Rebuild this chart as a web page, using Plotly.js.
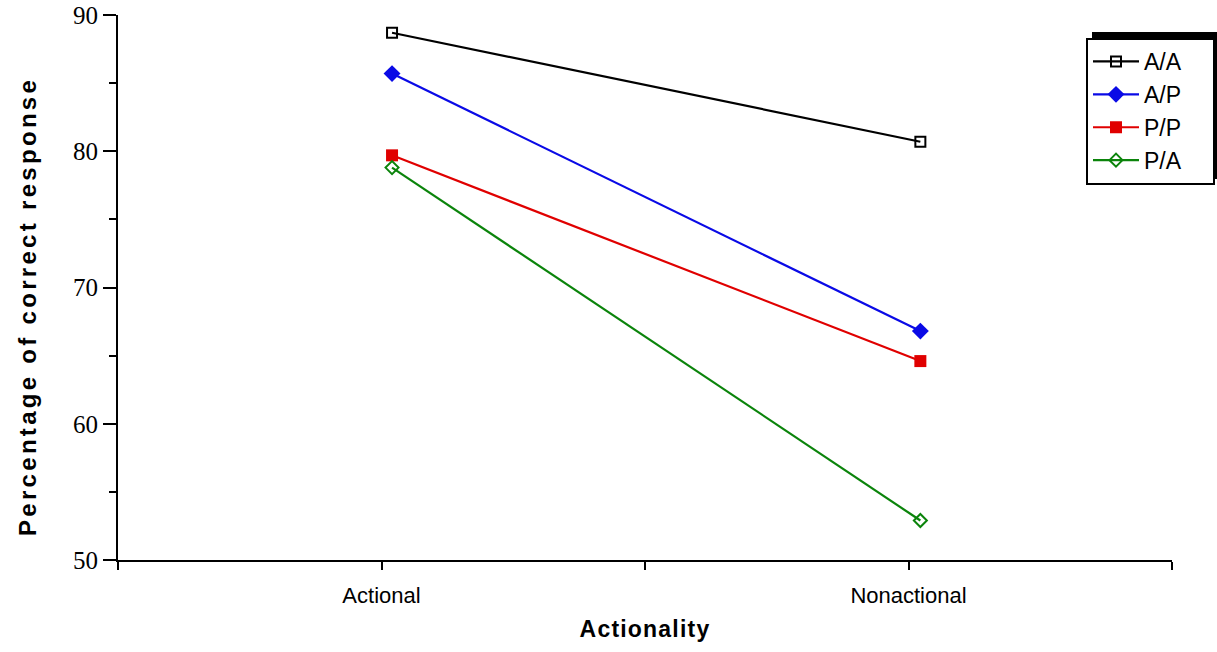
<!DOCTYPE html>
<html>
<head>
<meta charset="utf-8">
<script src="https://cdn.plot.ly/plotly-3.0.1.min.js"></script>
<style>
html,body{margin:0;padding:0;background:#fff;}
#chart{width:1217px;height:652px;}
</style>
</head>
<body>
<div id="chart"></div>
<script>
// Data
const categories = ["Actional", "Nonactional"];
const categoryPositions = [1.04, 3.045];
const seriesNames = ["A/A", "A/P", "P/P", "P/A"];
const valuesAA = [88.7, 80.7];
const valuesAP = [85.7, 66.8];
const valuesPP = [79.7, 64.6];
const valuesPA = [78.8, 52.9];
const xTickVals = [0, 1, 2, 3, 4];
const xTickText = ["", "Actional", "", "Nonactional", ""];
const yTickVals = [50, 60, 70, 80, 90];

const seriesValues = [valuesAA, valuesAP, valuesPP, valuesPA];
const styles = [
  {color: "#000000", symbol: "square-open", size: 10, lw: 2},
  {color: "#0a0ae6", symbol: "diamond", size: 13, lw: 0},
  {color: "#e00000", symbol: "square", size: 12, lw: 0},
  {color: "#0b840b", symbol: "diamond-open", size: 10, lw: 2}
];

const traces = seriesNames.map((name, i) => ({
  type: "scatter",
  mode: "lines+markers",
  name: name,
  x: categoryPositions,
  y: seriesValues[i],
  line: {color: styles[i].color, width: 2.2},
  marker: {symbol: styles[i].symbol, size: styles[i].size, color: styles[i].color,
           line: {color: styles[i].color, width: styles[i].lw}},
  cliponaxis: false,
  hoverinfo: "x+y+name"
}));

// plot area in px: x 118..1172, y 15..560
const px = v => (v - 118) / 1054;
const py = v => (560 - v) / 545;

const layout = {
  width: 1217, height: 652,
  margin: {l: 118, r: 45, t: 15, b: 92},
  paper_bgcolor: "#ffffff",
  plot_bgcolor: "rgba(0,0,0,0)",
  showlegend: true,
  font: {family: "Liberation Sans, Arial, sans-serif", color: "#000"},
  xaxis: {
    range: [0, 4],
    tickmode: "array",
    tickvals: xTickVals,
    ticktext: xTickText,
    showgrid: false, zeroline: false,
    showline: true, linecolor: "#000", linewidth: 2,
    ticks: "outside", ticklen: 8, tickwidth: 2, tickcolor: "#000",
    ticklabelstandoff: 7,
    tickfont: {family: "Liberation Sans, Arial, sans-serif", size: 22, color: "#000"},
    title: {text: "<span style=\"letter-spacing:1.2px\">Actionality</span>", font: {family: "Liberation Sans, Arial, sans-serif", size: 23, color: "#000", weight: "bold"}, standoff: 13},
    fixedrange: true
  },
  yaxis: {
    range: [50, 90],
    tickmode: "array",
    tickvals: yTickVals,
    showgrid: false, zeroline: false,
    showline: true, linecolor: "#000", linewidth: 2,
    ticks: "outside", ticklen: 13, tickwidth: 2, tickcolor: "#000",
    tickfont: {family: "Liberation Serif, Times New Roman, serif", size: 25, color: "#000"},
    minor: {dtick: 5, tick0: 50, ticks: "outside", ticklen: 7, tickwidth: 2, tickcolor: "#000", showgrid: false},
    fixedrange: true
  },
  legend: {
    x: px(1088), y: py(40), xref: "paper", yref: "paper",
    xanchor: "left", yanchor: "top",
    bgcolor: "rgba(0,0,0,0)", borderwidth: 0,
    font: {family: "Liberation Sans, Arial, sans-serif", size: 23, color: "#000"},
    itemwidth: 46,
    tracegroupgap: 0
  },
  shapes: [
    {type: "rect", xref: "paper", yref: "paper", x0: px(1092), x1: px(1217), y0: py(179), y1: py(32),
     fillcolor: "#000", line: {width: 0}, layer: "below"},
    {type: "rect", xref: "paper", yref: "paper", x0: px(1087), x1: px(1214), y0: py(184), y1: py(39),
     fillcolor: "#fff", line: {color: "#000", width: 2}, layer: "below"}
  ],
  annotations: [
    {text: "<span style=\"letter-spacing:3.3px\">Percentage of correct response</span>",
     xref: "paper", yref: "paper", x: px(27), y: py(307), xanchor: "center", yanchor: "middle",
     textangle: -90, showarrow: false,
     font: {family: "Liberation Sans, Arial, sans-serif", size: 24, color: "#000", weight: "bold"}}
  ]
};

Plotly.newPlot("chart", traces, layout, {displayModeBar: false, staticPlot: false});
</script>
</body>
</html>
